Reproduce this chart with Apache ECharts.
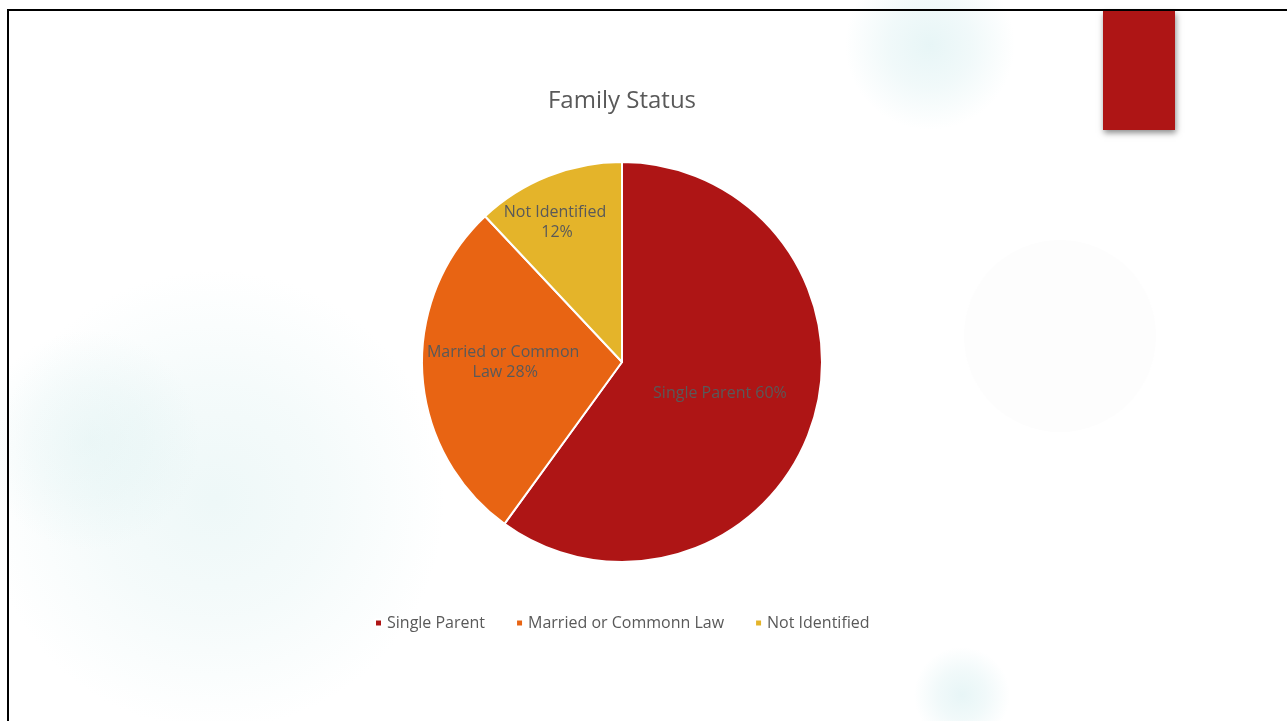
<!DOCTYPE html>
<html>
<head>
<meta charset="utf-8">
<title>Family Status</title>
<script src="https://cdn.jsdelivr.net/npm/echarts@6/dist/echarts.min.js"></script>
<style>
  html, body { margin: 0; padding: 0; background: #ffffff; }
  #chart { width: 1287px; height: 721px; }
</style>
</head>
<body>
<div id="chart"></div>
<script>
// Category names as listed in the legend
const categories = ['Single Parent', 'Married or Commonn Law', 'Not Identified'];
// Names as written on the slice labels
const labelNames = ['Single Parent', 'Married or Common Law', 'Not Identified'];
// Share of families, in percent
const shares = [60, 28, 12];

const sliceColors = ['#AE1515', '#E86413', '#E4B42A'];
// Label wrap widths and nudges from the slice centre
const labelWidths = [220, 170, 115];
const labelNudges = [[0, 0], [-14, -6], [-27, -44]];

const textColor = '#595959';
const fontFamily = '"Open Sans", Lato, sans-serif';

const chart = echarts.init(document.getElementById('chart'), null, { renderer: 'canvas' });

function glow(cx, cy, r, color, alpha) {
  return {
    type: 'circle',
    silent: true,
    z: -10,
    shape: { cx: cx, cy: cy, r: r },
    style: {
      fill: {
        type: 'radial', x: 0.5, y: 0.5, r: 0.5,
        colorStops: [
          { offset: 0, color: 'rgba(' + color + ',' + alpha + ')' },
          { offset: 0.5, color: 'rgba(' + color + ',' + (alpha * 0.6) + ')' },
          { offset: 1, color: 'rgba(' + color + ',0)' }
        ]
      }
    }
  };
}

chart.setOption({
  backgroundColor: '#ffffff',
  animation: false,
  title: {
    text: 'Family Status',
    left: 617,
    textAlign: 'center',
    top: 84,
    textStyle: { color: textColor, fontSize: 24, fontWeight: 'normal', fontFamily: fontFamily }
  },
  legend: {
    data: categories,
    top: 610,
    left: 369,
    icon: 'rect',
    itemWidth: 7,
    itemHeight: 7,
    itemGap: 30,
    textStyle: { color: textColor, fontSize: 16, fontFamily: fontFamily, padding: [0, 0, 0, 0] }
  },
  graphic: [
    glow(215, 500, 230, '214,238,238', 0.42),
    glow(90, 440, 110, '204,234,234', 0.28),
    glow(930, 45, 85, '208,236,238', 0.5),
    glow(962, 695, 48, '208,236,238', 0.5),
    {
      type: 'circle', silent: true, z: -10,
      shape: { cx: 1060, cy: 336, r: 96 },
      style: { fill: '#fdfdfd' }
    },
    {
      type: 'polyline', silent: true, z: 50,
      shape: { points: [[8, 721], [8, 10], [1287, 10]] },
      style: { stroke: '#000000', lineWidth: 2, fill: null }
    },
    {
      type: 'rect', silent: true, z: 40,
      shape: { x: 1103, y: 11, width: 72, height: 119 },
      style: {
        fill: '#AE1515',
        shadowBlur: 6,
        shadowOffsetX: 1,
        shadowOffsetY: 3,
        shadowColor: 'rgba(0,0,0,0.45)'
      }
    }
  ],
  series: [{
    type: 'pie',
    center: [622, 362],
    radius: 200,
    startAngle: 90,
    clockwise: true,
    avoidLabelOverlap: false,
    itemStyle: { borderColor: '#ffffff', borderWidth: 2 },
    label: {
      show: true,
      position: 'inside',
      color: textColor,
      fontSize: 16,
      fontFamily: fontFamily,
      lineHeight: 20,
      align: 'center',
      overflow: 'break',
      formatter: function (p) { return labelNames[p.dataIndex] + ' ' + p.value + '%'; }
    },
    labelLayout: function (p) {
      const n = labelNudges[p.dataIndex];
      return { dx: n[0], dy: n[1] };
    },
    emphasis: { disabled: true },
    data: categories.map(function (name, i) {
      return {
        name: name,
        value: shares[i],
        itemStyle: { color: sliceColors[i] },
        label: { width: labelWidths[i] }
      };
    })
  }]
});
</script>
</body>
</html>
